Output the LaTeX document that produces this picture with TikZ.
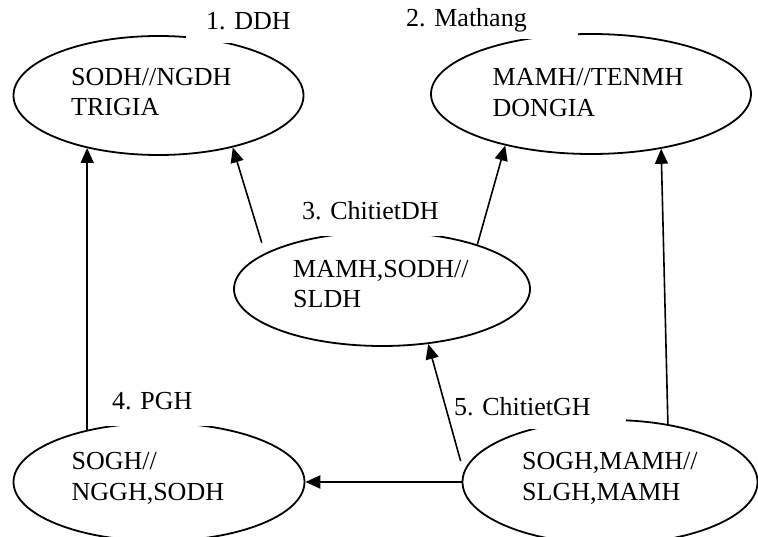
\documentclass[tikz,border=0pt]{standalone}
\usepackage{fontspec}
\setmainfont{Liberation Serif}
\frenchspacing
\usetikzlibrary{shapes.geometric,arrows.meta}
\begin{document}
\begin{tikzpicture}[x=1pt,y=-1pt,
  entity/.style={ellipse, draw, line width=1.8pt, inner sep=0pt},
  fields/.style={anchor=base west, align=left, inner sep=0pt,
    font=\fontsize{26pt}{30.5pt}\selectfont},
  tag/.style={anchor=base west, fill=white, inner xsep=20pt, inner ysep=0pt,
    text width=152pt, align=left, text height=40pt,
    font=\fontsize{26pt}{30.5pt}\selectfont},
  link/.style={-{Triangle[length=15pt,width=13pt]}, line width=1.6pt},
]
\useasboundingbox (0,0) rectangle (758,537);

% entity ellipses
\node[entity, minimum width=290pt, minimum height=119pt] (e1) at (158.5,95.5) {};
\node[entity, minimum width=320pt, minimum height=120pt] (e2) at (591,94) {};
\node[entity, minimum width=296pt, minimum height=114pt] (e3) at (382,289) {};
\node[entity, minimum width=291pt, minimum height=118pt] (e4) at (159,482) {};
\node[entity, minimum width=295pt, minimum height=124pt] (e5) at (610,482) {};

% attributes inside each entity (placed by the baseline of the last line)
\node[fields] (t1) at (71,116) {SODH//NGDH\\TRIGIA};
\node[fields] (t2) at (492.5,116.5) {MAMH//TENMH\\DONGIA};
\node[fields] (t3) at (293,308) {MAMH,SODH//\\SLDH};
\node[fields] (t4) at (71.5,500) {SOGH//\\NGGH,SODH};
\node[fields] (t5) at (522,500) {SOGH,MAMH//\\SLGH,MAMH};

% entity titles on white boxes
\node[tag, text depth=13.3pt] (l1) at (186,29.3) {1. DDH};
\node[tag, text depth=12.8pt] (l2) at (386,26.7) {2. Mathang};
\node[tag, text depth=16.7pt] (l3) at (282,219.3) {3. ChitietDH};
\node[tag, text depth=17.4pt] (l4) at (92,409) {4. PGH};
\node[tag, text depth=13.5pt] (l5) at (434,415.5) {5. ChitietGH};

% references
\draw[link] (e4.144) -- (e4.144 |- e1.216);
\draw[link, shorten <=11pt] (e3.163) -- (e1.325);
\draw[link] (e3.25) -- (e2.211);
\draw[link] (e5.45) -- (e2.322);
\draw[link, shorten <=11pt] (e5.176) -- (e3.310);
\draw[link, line width=2.4pt] (e5.west) -- (e5.west -| e4.east);
\end{tikzpicture}
\end{document}
